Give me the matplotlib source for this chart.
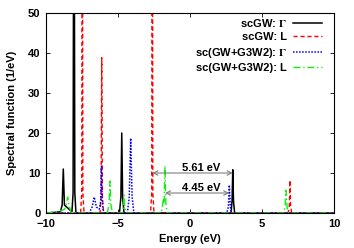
import numpy as np
import matplotlib
matplotlib.use("Agg")
import matplotlib.pyplot as plt

# scGW at Gamma (black, solid)
gw_g_e = [-10, -9.0, -8.88, -8.8, -8.72, -8.2, -8.12, -8.06, -8.0, -7.92, -4.9, -4.8, -4.74, -4.68, -4.58, 2.85, 2.92, 2.97, 3.02, 3.1, 10]
gw_g_a = [0, 0.3, 2.0, 11.0, 2.0, 0.3, 5.0, 120.0, 5.0, 0, 0, 4.0, 20.0, 4.0, 0, 0, 3.0, 10.8, 3.0, 0, 0]

# scGW at L (red, dashed)
gw_l_e = [-10, -7.6, -7.52, -7.48, -7.44, -7.36, -6.25, -6.18, -6.13, -6.08, -6.0, -2.74, -2.66, -2.62, -2.58, -2.5, 6.82, 6.9, 6.94, 6.98, 7.06, 10]
gw_l_a = [0, 0, 5.0, 120.0, 5.0, 0, 0, 4.0, 38.8, 4.0, 0, 0, 5.0, 120.0, 5.0, 0, 0, 2.0, 8.2, 2.0, 0, 0]

# sc(GW+G3W2) at Gamma (blue, dotted)
g3_g_e = [-10, -7.0, -6.8, -6.65, -6.5, -6.3, -6.2, -6.15, -6.1, -6.0, -4.35, -4.22, -4.12, -4.02, -3.9, 2.55, 2.66, 2.73, 2.8, 2.9, 10]
g3_g_a = [0, 0, 1.5, 4.0, 1.5, 1.0, 3.0, 11.6, 3.0, 0, 0, 4.0, 18.7, 4.0, 0, 0, 1.5, 7.0, 1.5, 0, 0]

# sc(GW+G3W2) at L (green, dash-dot)
g3_l_e = [-10, -9.2, -8.95, -8.7, -8.6, -8.5, -8.4, -8.25, -5.75, -5.63, -5.56, -5.49, -5.38, -4.7, -4.62, -4.58, -4.54, -4.45, -2.0, -1.9, -1.85, -1.8, -1.74, -1.68, -1.58, 6.5, 6.6, 6.67, 6.74, 6.85, 10]
g3_l_a = [0, 0.3, 0.6, 1.0, 2.0, 4.0, 2.0, 0, 0, 2.0, 8.0, 2.0, 0, 0, 1.5, 4.5, 1.5, 0, 0, 2.0, 3.7, 2.5, 11.8, 2.5, 0, 0, 1.5, 5.7, 1.5, 0, 0]

labels = [r"scGW: $\Gamma$", "scGW: L", r"sc(GW+G3W2): $\Gamma$", "sc(GW+G3W2): L"]

plt.rcParams["font.family"] = "Liberation Sans"
plt.rcParams["font.weight"] = "bold"
plt.rcParams["font.size"] = 8
plt.rcParams["mathtext.fontset"] = "stix"

fig = plt.figure(figsize=(3.54, 2.48), dpi=100)
ax = fig.add_axes([0.130, 0.141, 0.8135, 0.807])

ax.plot(gw_g_e, gw_g_a, color="black", lw=1.1, label=labels[0])
ax.plot(gw_l_e, gw_l_a, color="red", lw=1.0, ls=(0, (3, 2)), label=labels[1])
ax.plot(g3_g_e, g3_g_a, color="blue", lw=1.1, ls=(0, (1, 1)), label=labels[2])
ax.plot(g3_l_e, g3_l_a, color="#11ee11", lw=1.0, ls=(0, (5, 2, 1, 2)), label=labels[3])

# band gap arrows
ax.annotate("", xy=(-2.62, 10), xytext=(2.97, 10),
            arrowprops=dict(arrowstyle="<->", color="gray", lw=0.8, shrinkA=0, shrinkB=0))
ax.annotate("", xy=(-1.74, 5), xytext=(2.73, 5),
            arrowprops=dict(arrowstyle="<->", color="gray", lw=0.8, shrinkA=0, shrinkB=0))
ax.text(0.8, 10.4, "5.61 eV", ha="center", va="baseline", fontweight="bold")
ax.text(0.8, 5.4, "4.45 eV", ha="center", va="baseline", fontweight="bold")

ax.set_xlim(-10, 10)
ax.set_ylim(0, 50)
ax.set_xticks([-10, -5, 0, 5, 10])
ax.set_yticks([0, 10, 20, 30, 40, 50])
ax.tick_params(direction="in", length=3, width=0.6, top=True, right=True, pad=4)
for s in ax.spines.values():
    s.set_linewidth(0.8)
ax.set_xlabel("Energy (eV)", fontweight="bold", labelpad=4)
ax.set_ylabel("Spectral function (1/eV)", fontweight="bold", labelpad=8)

leg = ax.legend(loc="upper right", bbox_to_anchor=(0.958, 0.98), markerfirst=False,
                frameon=False, handlelength=2.6, handletextpad=0.55, labelspacing=0.3,
                borderaxespad=0, borderpad=0, prop={"weight": "bold", "size": 8})

fig.savefig("out.png", dpi=100)
